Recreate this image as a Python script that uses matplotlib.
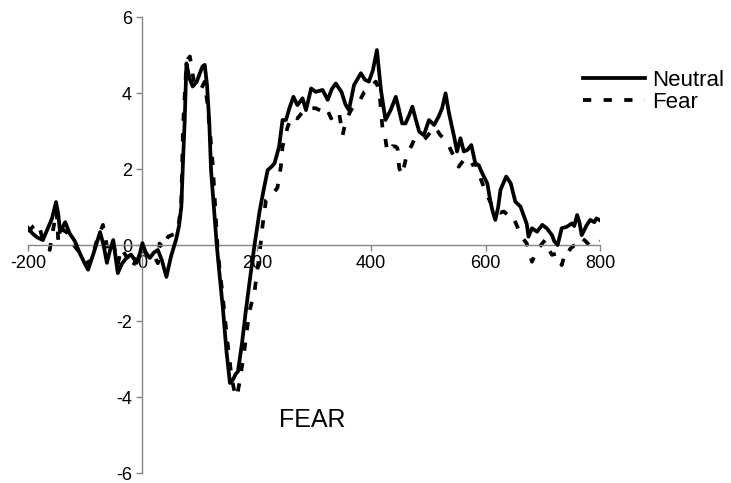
import matplotlib
matplotlib.use("Agg")
import matplotlib.pyplot as plt

plt.rcParams['font.family'] = ['Liberation Sans', 'DejaVu Sans']
plt.rcParams['axes.unicode_minus'] = False

# Neutral condition (ms, uV)
neutral_t = [-200, -192, -184, -174, -165, -158, -151, -147, -144, -135, -127, -118, -110, -102,
             -95, -85, -74, -68, -62, -56, -51, -47, -43, -36, -28, -20, -10, -4, 0, 6, 13, 20,
             27, 34, 42, 50, 59, 64, 68, 71, 74, 77, 82, 88, 95, 100, 105, 109, 113, 117, 120,
             125, 130, 135, 141, 147, 153, 158, 163, 167, 174, 181, 188, 196, 205, 213, 219, 225,
             231, 239, 245, 251, 257, 264, 271, 280, 286, 295, 303, 315, 324, 331, 338, 348, 355,
             361, 370, 382, 389, 396, 403, 410, 417, 425, 434, 443, 448, 454, 460, 466, 472, 478,
             484, 492, 501, 510, 518, 524, 530, 536, 545, 550, 556, 562, 568, 575, 582, 588, 594,
             603, 608, 612, 617, 622, 626, 636, 644, 652, 661, 666, 672, 675, 681, 690, 699, 707,
             716, 720, 726, 733, 742, 751, 755, 760, 764, 768, 777, 783, 790, 794, 800]
neutral_v = [0.45, 0.3, 0.2, 0.13, 0.45, 0.7, 1.13, 0.8, 0.34, 0.6, 0.3, 0.1, -0.2, -0.45,
             -0.65, -0.2, 0.34, 0.0, -0.47, -0.1, 0.13, -0.3, -0.74, -0.5, -0.34, -0.25, -0.47, -0.2,
             0.05, -0.2, -0.34, -0.2, -0.13, -0.4, -0.84, -0.3, 0.15, 0.5, 1.0, 2.2, 3.3, 4.78, 4.4,
             4.17, 4.3, 4.5, 4.7, 4.74, 4.2, 3.2, 1.97, 1.0, 0.0, -0.8, -1.71, -2.8, -3.63, -3.55,
             -3.4, -3.33, -2.6, -1.71, -0.9, 0.0, 0.9, 1.53, 1.97, 2.05, 2.15, 2.59, 3.29, 3.29, 3.6,
             3.9, 3.68, 3.86, 3.55, 4.12, 4.03, 4.08, 3.82, 4.1, 4.25, 4.03, 3.7, 3.55, 4.21, 4.52,
             4.35, 4.3, 4.6, 5.13, 4.08, 3.29, 3.55, 3.9, 3.6, 3.2, 3.2, 3.4, 3.64, 3.3, 2.98, 2.89,
             3.29, 3.16, 3.38, 3.6, 3.99, 3.47, 2.85, 2.46, 2.81, 2.46, 2.5, 2.63, 2.15, 2.1, 1.89,
             1.62, 1.18, 0.9, 0.66, 1.0, 1.45, 1.8, 1.62, 1.14, 1.01, 0.8, 0.55, 0.22, 0.44, 0.35,
             0.53, 0.44, 0.26, 0.1, 0.0, 0.44, 0.48, 0.57, 0.5, 0.79, 0.6, 0.26, 0.53, 0.66, 0.6,
             0.7, 0.65]

# Fear condition (ms, uV)
fear_t = [-200, -190, -182, -175, -168, -162, -155, -150, -147, -138, -130, -120, -110, -100,
          -90, -80, -69, -60, -50, -43, -37, -28, -18, -8, 0, 10, 18, 24, 27, 30, 36, 45, 51,
          58, 64, 68, 71, 76, 80, 83, 90, 98, 103, 109, 114, 118, 123, 128, 132, 140, 149, 156,
          161, 165, 170, 178, 187, 196, 205, 210, 216, 225, 236, 242, 245, 254, 262, 271, 280,
          290, 303, 315, 322, 330, 337, 344, 350, 356, 363, 370, 380, 388, 395, 403, 408, 414,
          420, 423, 428, 431, 437, 443, 446, 449, 454, 458, 463, 470, 475, 483, 492, 500, 510,
          516, 521, 530, 536, 542, 553, 562, 571, 582, 590, 600, 608, 615, 625, 632, 643, 647,
          655, 661, 672, 681, 690, 697, 704, 710, 716, 725, 733, 739, 742, 748, 754, 761, 768,
          775, 782, 790, 800]
fear_v = [0.35, 0.5, 0.57, 0.2, 0.0, -0.13, 0.5, 0.9, 0.09, 0.4, 0.3, 0.0, -0.2, -0.5,
          -0.4, 0.1, 0.53, -0.2, 0.0, -0.5, -0.09, -0.3, -0.6, -0.3, -0.1, -0.3, -0.2, -0.39,
          -0.48, 0.04, -0.09, 0.22, 0.26, 0.3, 0.6, 1.1, 3.11, 4.5, 4.9, 4.96, 4.3, 4.1, 4.12,
          4.3, 3.68, 3.0, 2.1, 0.8, -0.22, -1.3, -2.59, -3.5, -3.86, -4.0, -3.6, -2.8, -1.75,
          -1.23, -0.2, 0.5, 1.18, 1.3, 1.5, 2.06, 2.59, 3.11, 3.4, 3.33, 3.5, 3.6, 3.6, 3.51,
          3.6, 3.33, 3.5, 3.47, 2.89, 3.29, 3.5, 3.68, 3.8, 4.03, 4.1, 4.21, 4.3, 4.08, 3.03,
          2.98, 2.46, 2.46, 2.6, 2.59, 2.54, 2.02, 1.84, 2.1, 2.41, 2.6, 2.76, 2.7, 2.76, 2.9,
          3.11, 3.0, 2.89, 2.76, 2.6, 2.41, 2.06, 2.24, 2.06, 2.15, 1.8, 1.4, 1.14, 0.9, 0.85,
          0.88, 0.74, 0.77, 0.5, 0.26, 0.04, -0.44, -0.13, 0.0, 0.13, -0.1, -0.26, -0.22, -0.53,
          -0.22, -0.26, -0.1, -0.02, 0.0, 0.18, 0.1, -0.02, 0.0, 0.1]

x_ticks = [-200, 0, 200, 400, 600, 800]
y_ticks = [-6, -4, -2, 0, 2, 4, 6]

fig = plt.figure(figsize=(7.31, 4.83), dpi=100)
ax = fig.add_axes([28 / 731, 10 / 483, 572 / 731, 456 / 483])

ax.plot(neutral_t, neutral_v, color='black', lw=2.7, label='Neutral', zorder=3)
ax.plot(fear_t, fear_v, color='black', lw=2.7, dashes=(2.2, 3.3), label='Fear', zorder=2)

ax.set_xlim(-200, 800)
ax.set_ylim(-6, 6)
ax.set_xticks(x_ticks)
ax.set_yticks(y_ticks)

axis_grey = '#868686'
ax.spines['left'].set_position(('data', 0))
ax.spines['bottom'].set_position(('data', 0))
ax.spines['top'].set_visible(False)
ax.spines['right'].set_visible(False)
for s in ('left', 'bottom'):
    ax.spines[s].set_color(axis_grey)
    ax.spines[s].set_linewidth(1.0)
ax.tick_params(direction='out', length=4, width=1.0, color=axis_grey,
               labelsize=13, labelcolor='black')

fig.legend(loc='upper left', bbox_to_anchor=(583 / 731, 1 - 70 / 483),
           frameon=False, fontsize=16, handlelength=2.8, handletextpad=0.3,
           borderpad=0, borderaxespad=0, labelspacing=0.05)

fig.text(312 / 731, 1 - 420 / 483, 'FEAR', fontsize=18, ha='center', va='center')

fig.savefig('out.png', dpi=100)
